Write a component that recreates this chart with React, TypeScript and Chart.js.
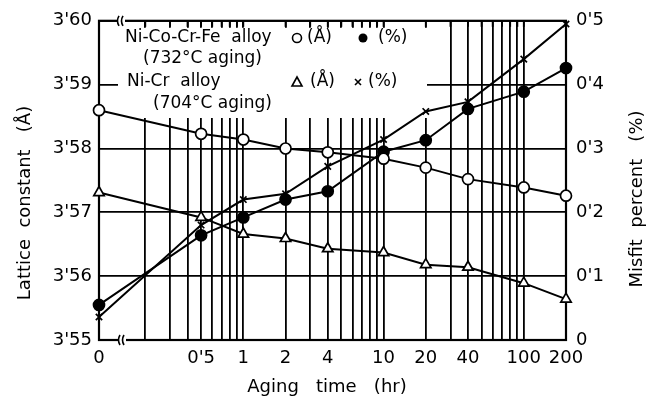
import React, { useEffect, useRef } from 'react';
import { Chart, registerables } from 'chart.js';

Chart.register(...registerables);

// ---- Data ----
const agingTimes = [0, 0.5, 1, 2, 4, 10, 20, 40, 100, 200];
const niCoCrFeLattice = [3.586, 3.5823, 3.5814, 3.58, 3.5794, 3.5784, 3.577, 3.5752, 3.5739, 3.5726];
const niCoCrFeMisfit = [0.055, 0.164, 0.192, 0.22, 0.233, 0.295, 0.313, 0.362, 0.389, 0.426];
const niCrLattice = [3.5731, 3.5692, 3.5666, 3.5659, 3.5643, 3.5637, 3.5618, 3.5614, 3.5589, 3.5564];
const niCrMisfit = [0.036, 0.18, 0.22, 0.229, 0.272, 0.314, 0.358, 0.373, 0.44, 0.495];

const xLabelValues = [0, 0.5, 1, 2, 4, 10, 20, 40, 100, 200];
const xGridValues = [
  0.2, 0.3, 0.4, 0.5, 0.6, 0.7, 0.8, 0.9,
  1, 2, 3, 4, 5, 6, 7, 8, 9,
  10, 20, 30, 40, 50, 60, 70, 80, 90,
  100, 200,
];
const latticeTicks = [3.55, 3.56, 3.57, 3.58, 3.59, 3.6];
const misfitTicks = [0, 0.1, 0.2, 0.3, 0.4, 0.5];
// position used for the "0 hr" point on the broken log axis
const X_ZERO = 0.0935;

const FONT = '"DejaVu Sans", sans-serif';

const fmtRaised = (v: number, digits: number) =>
  v === 0 ? '0' : v.toFixed(digits).replace('.', "'");

const xFor = (t: number) => (t === 0 ? X_ZERO : t);

const toPoints = (vals: number[]) => agingTimes.map((t, i) => ({ x: xFor(t), y: vals[i] }));

const decorPlugin = {
  id: 'decor',
  beforeDatasetsDraw(chart: any) {
    const { ctx, chartArea, scales } = chart;
    const { left, right, top, bottom } = chartArea;
    ctx.save();
    // legend box (hides grid)
    ctx.fillStyle = '#fff';
    ctx.fillRect(118, top + 7, 427 - 118, 118 - (top + 7));

    // frame
    ctx.strokeStyle = '#000';
    ctx.lineWidth = 2.2;
    ctx.strokeRect(left, top, right - left, bottom - top);

    // small inner ticks on top edge
    ctx.lineWidth = 1.8;
    xGridValues.forEach((v) => {
      const px = scales.x.getPixelForValue(v);
      ctx.beginPath();
      ctx.moveTo(px, top);
      ctx.lineTo(px, top + 6);
      ctx.stroke();
    });

    // axis break marks
    const brk = (bx: number, by: number) => {
      ctx.fillStyle = '#fff';
      ctx.fillRect(bx - 4, by - 3, 8, 6);
      ctx.strokeStyle = '#000';
      ctx.lineWidth = 1.6;
      [bx - 3, bx + 1].forEach((cx) => {
        ctx.beginPath();
        ctx.moveTo(cx + 1, by - 5);
        ctx.quadraticCurveTo(cx - 2, by, cx + 1, by + 5);
        ctx.stroke();
      });
    };
    brk(121, top);
    brk(122, bottom);

    // legend text
    ctx.fillStyle = '#000';
    ctx.font = `17px ${FONT}`;
    ctx.textBaseline = 'middle';
    ctx.textAlign = 'left';
    ctx.fillText('Ni-Co-Cr-Fe  alloy', 125, 38);
    ctx.fillText('(732°C aging)', 143, 59);
    ctx.fillText('Ni-Cr  alloy', 127, 82);
    ctx.fillText('(704°C aging)', 153, 104);
    ctx.fillText('(Å)', 307, 38);
    ctx.fillText('(%)', 378, 38);
    ctx.fillText('(Å)', 310, 82);
    ctx.fillText('(%)', 368, 82);

    // legend markers
    ctx.lineWidth = 1.6;
    ctx.strokeStyle = '#000';
    ctx.beginPath();
    ctx.arc(297, 38, 4.5, 0, Math.PI * 2);
    ctx.fillStyle = '#fff';
    ctx.fill();
    ctx.stroke();
    ctx.beginPath();
    ctx.arc(363, 38, 4.5, 0, Math.PI * 2);
    ctx.fillStyle = '#000';
    ctx.fill();
    ctx.beginPath();
    ctx.moveTo(297, 77);
    ctx.lineTo(302, 86);
    ctx.lineTo(292, 86);
    ctx.closePath();
    ctx.stroke();
    ctx.beginPath();
    ctx.moveTo(355, 79);
    ctx.lineTo(361, 85);
    ctx.moveTo(361, 79);
    ctx.lineTo(355, 85);
    ctx.stroke();

    // axis titles
    ctx.fillStyle = '#000';
    ctx.font = `18px ${FONT}`;
    ctx.textAlign = 'center';
    ctx.fillText('Aging   time   (hr)', 327, 387);
    ctx.save();
    ctx.translate(25, 203);
    ctx.rotate(-Math.PI / 2);
    ctx.fillText('Lattice  constant   (Å)', 0, 0);
    ctx.restore();
    ctx.save();
    ctx.translate(637, 199);
    ctx.rotate(-Math.PI / 2);
    ctx.fillText('Misfit  percent   (%)', 0, 0);
    ctx.restore();
    ctx.restore();
  },
};

export default function App() {
  const ref = useRef<HTMLCanvasElement | null>(null);

  useEffect(() => {
    if (!ref.current) return;
    const baseLine = {
      borderColor: '#000',
      borderWidth: 2,
      pointBorderColor: '#000',
      pointBorderWidth: 1.7,
      clip: false as any,
      tension: 0,
    };
    const chart = new Chart(ref.current, {
      type: 'line',
      data: {
        datasets: [
          {
            ...baseLine,
            label: 'Ni-Co-Cr-Fe (Å)',
            data: toPoints(niCoCrFeLattice),
            yAxisID: 'y',
            pointStyle: 'circle',
            pointRadius: 5.5,
            pointBackgroundColor: '#fff',
          },
          {
            ...baseLine,
            label: 'Ni-Co-Cr-Fe (%)',
            data: toPoints(niCoCrFeMisfit),
            yAxisID: 'y2',
            pointStyle: 'circle',
            pointRadius: 5.5,
            pointBackgroundColor: '#000',
          },
          {
            ...baseLine,
            label: 'Ni-Cr (Å)',
            data: toPoints(niCrLattice),
            yAxisID: 'y',
            pointStyle: 'triangle',
            pointRadius: 6,
            pointBackgroundColor: '#fff',
          },
          {
            ...baseLine,
            label: 'Ni-Cr (%)',
            data: toPoints(niCrMisfit),
            yAxisID: 'y2',
            pointStyle: 'crossRot',
            pointRadius: 4.5,
            pointBackgroundColor: '#fff',
          },
        ],
      },
      options: {
        responsive: false,
        animation: false,
        layout: { padding: { top: 19, left: 0, right: 0, bottom: 0 } },
        plugins: { legend: { display: false }, tooltip: { enabled: false } },
        scales: {
          x: {
            type: 'logarithmic',
            min: X_ZERO,
            max: 200,
            afterBuildTicks: (scale: any) => {
              scale.ticks = [X_ZERO, ...xGridValues].map((v) => ({ value: v }));
            },
            afterFit: (scale: any) => {
              scale.height = 58;
            },
            grid: { color: '#000', lineWidth: 1.8, drawTicks: false },
            border: { display: false },
            ticks: {
              autoSkip: false,
              maxRotation: 0,
              padding: 8,
              color: '#000',
              font: { family: FONT, size: 18 },
              callback: (value: any) => {
                const v = Number(value);
                if (Math.abs(v - X_ZERO) < 1e-9) return '0';
                if (xLabelValues.includes(v)) return v === 0.5 ? "0'5" : String(v);
                return '';
              },
            },
          },
          y: {
            type: 'linear',
            position: 'left',
            min: 3.55,
            max: 3.6,
            afterBuildTicks: (scale: any) => {
              scale.ticks = latticeTicks.map((v) => ({ value: v }));
            },
            afterFit: (scale: any) => {
              scale.width = 99;
            },
            grid: { color: '#000', lineWidth: 1.8, drawTicks: false },
            border: { display: false },
            ticks: {
              padding: 7,
              color: '#000',
              font: { family: FONT, size: 18 },
              callback: (value: any) => fmtRaised(Number(value), 2),
            },
          },
          y2: {
            type: 'linear',
            position: 'right',
            min: 0,
            max: 0.5,
            afterBuildTicks: (scale: any) => {
              scale.ticks = misfitTicks.map((v) => ({ value: v }));
            },
            afterFit: (scale: any) => {
              scale.width = 84;
            },
            grid: { display: false, drawTicks: false },
            border: { display: false },
            ticks: {
              padding: 10,
              color: '#000',
              font: { family: FONT, size: 18 },
              callback: (value: any) => fmtRaised(Number(value), 1),
            },
          },
        },
      } as any,
      plugins: [decorPlugin],
    });
    return () => chart.destroy();
  }, []);

  return (
    <div style={{ position: 'absolute', left: 0, top: 0, width: 650, height: 398, background: '#fff' }}>
      <canvas ref={ref} width={650} height={398} />
    </div>
  );
}
